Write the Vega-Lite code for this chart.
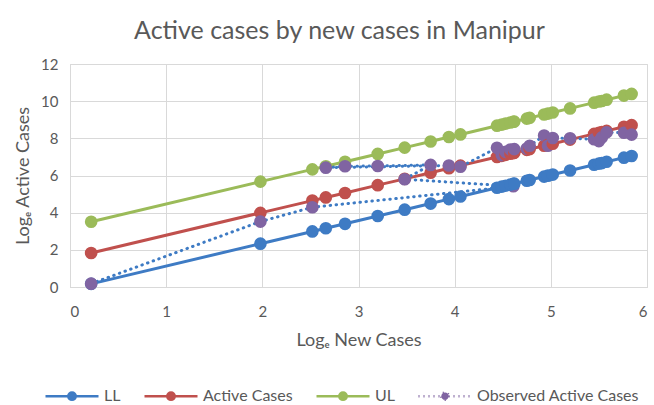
{
  "$schema": "https://vega.github.io/schema/vega-lite/v6.json",
  "width": 577,
  "height": 223,
  "autosize": "none",
  "padding": {"left": 70, "top": 64, "right": 7, "bottom": 118},
  "background": "white",
  "title": {"text": "Active cases by new cases in Manipur", "font": "Lato", "fontSize": 25, "fontWeight": "normal", "color": "#595959", "anchor": "middle", "dx": -19, "offset": 13},
  "data": {"values": [
    {"i": 1, "x": 0.22, "LL": 0.17, "Active Cases": 1.83, "UL": 3.51, "Observed Active Cases": 0.18},
    {"i": 2, "x": 1.98, "LL": 2.33, "Active Cases": 3.99, "UL": 5.67, "Observed Active Cases": 3.52},
    {"i": 3, "x": 2.52, "LL": 2.99, "Active Cases": 4.65, "UL": 6.33, "Observed Active Cases": 4.29},
    {"i": 4, "x": 4.61, "LL": 5.55, "Active Cases": 7.21, "UL": 8.89, "Observed Active Cases": 5.42},
    {"i": 5, "x": 3.48, "LL": 4.16, "Active Cases": 5.82, "UL": 7.50, "Observed Active Cases": 5.80},
    {"i": 6, "x": 3.75, "LL": 4.49, "Active Cases": 6.15, "UL": 7.83, "Observed Active Cases": 6.57},
    {"i": 7, "x": 3.20, "LL": 3.82, "Active Cases": 5.48, "UL": 7.16, "Observed Active Cases": 6.51},
    {"i": 8, "x": 2.86, "LL": 3.40, "Active Cases": 5.06, "UL": 6.74, "Observed Active Cases": 6.50},
    {"i": 9, "x": 2.66, "LL": 3.16, "Active Cases": 4.82, "UL": 6.50, "Observed Active Cases": 6.42},
    {"i": 10, "x": 3.94, "LL": 4.73, "Active Cases": 6.39, "UL": 8.07, "Observed Active Cases": 6.54},
    {"i": 11, "x": 4.06, "LL": 4.87, "Active Cases": 6.53, "UL": 8.21, "Observed Active Cases": 6.47},
    {"i": 12, "x": 4.44, "LL": 5.34, "Active Cases": 7.00, "UL": 8.68, "Observed Active Cases": 7.49},
    {"i": 13, "x": 4.49, "LL": 5.40, "Active Cases": 7.06, "UL": 8.74, "Observed Active Cases": 7.10},
    {"i": 14, "x": 4.53, "LL": 5.45, "Active Cases": 7.11, "UL": 8.79, "Observed Active Cases": 7.27},
    {"i": 15, "x": 4.58, "LL": 5.51, "Active Cases": 7.17, "UL": 8.85, "Observed Active Cases": 7.40},
    {"i": 16, "x": 4.62, "LL": 5.56, "Active Cases": 7.22, "UL": 8.90, "Observed Active Cases": 7.42},
    {"i": 17, "x": 4.75, "LL": 5.72, "Active Cases": 7.38, "UL": 9.06, "Observed Active Cases": 7.45},
    {"i": 18, "x": 4.78, "LL": 5.76, "Active Cases": 7.42, "UL": 9.10, "Observed Active Cases": 7.60},
    {"i": 19, "x": 4.93, "LL": 5.94, "Active Cases": 7.60, "UL": 9.28, "Observed Active Cases": 8.15},
    {"i": 20, "x": 4.97, "LL": 5.99, "Active Cases": 7.65, "UL": 9.33, "Observed Active Cases": 7.60},
    {"i": 21, "x": 5.02, "LL": 6.05, "Active Cases": 7.71, "UL": 9.39, "Observed Active Cases": 8.02},
    {"i": 22, "x": 5.20, "LL": 6.27, "Active Cases": 7.93, "UL": 9.61, "Observed Active Cases": 8.00},
    {"i": 23, "x": 5.45, "LL": 6.58, "Active Cases": 8.24, "UL": 9.92, "Observed Active Cases": 7.95},
    {"i": 24, "x": 5.50, "LL": 6.64, "Active Cases": 8.30, "UL": 9.98, "Observed Active Cases": 7.85},
    {"i": 25, "x": 5.53, "LL": 6.67, "Active Cases": 8.33, "UL": 10.01, "Observed Active Cases": 8.05},
    {"i": 26, "x": 5.58, "LL": 6.74, "Active Cases": 8.40, "UL": 10.08, "Observed Active Cases": 8.32},
    {"i": 27, "x": 5.76, "LL": 6.96, "Active Cases": 8.62, "UL": 10.30, "Observed Active Cases": 8.30},
    {"i": 28, "x": 5.84, "LL": 7.05, "Active Cases": 8.71, "UL": 10.39, "Observed Active Cases": 8.20}
  ]},
  "transform": [{"fold": ["LL", "Active Cases", "UL", "Observed Active Cases"], "as": ["series", "y"]}],
  "encoding": {
    "x": {"field": "x", "type": "quantitative", "scale": {"domain": [0, 6], "nice": false},
      "axis": {"title": "Logₑ New Cases", "values": [0, 1, 2, 3, 4, 5, 6], "grid": true, "gridColor": "#D9D9D9", "domainColor": "#D9D9D9", "ticks": false,
        "labelFont": "Lato", "labelFontSize": 15, "labelColor": "#595959", "labelPadding": 17,
        "titleFont": "Lato", "titleFontSize": 18, "titleFontWeight": "normal", "titleColor": "#595959", "titlePadding": 12}},
    "y": {"field": "y", "type": "quantitative", "scale": {"domain": [0, 12], "nice": false},
      "axis": {"title": "Logₑ Active Cases", "values": [0, 2, 4, 6, 8, 10, 12], "grid": true, "gridColor": "#D9D9D9", "domainColor": "#D9D9D9", "ticks": false,
        "labelFont": "Lato", "labelFontSize": 15, "labelColor": "#595959", "labelPadding": 12,
        "titleFont": "Lato", "titleFontSize": 18, "titleFontWeight": "normal", "titleColor": "#595959", "titlePadding": 8}},
    "color": {"field": "series", "type": "nominal",
      "scale": {"domain": ["LL", "Active Cases", "UL", "Observed Active Cases"], "range": ["#3E7BC4", "#C0504D", "#9BBB59", "#8064A2"]},
      "legend": {"orient": "none", "legendX": -26, "legendY": 304, "direction": "horizontal", "title": null,
        "symbolType": "M-1,0H1M0.14,0C0.14,0.077,0.077,0.14,0,0.14C-0.077,0.14,-0.14,0.077,-0.14,0C-0.14,-0.077,-0.077,-0.14,0,-0.14C0.077,-0.14,0.14,-0.077,0.14,0Z",
        "symbolSize": 2809, "symbolStrokeWidth": 2.5, "symbolOpacity": 1,
        "labelFont": "Lato", "labelFontSize": 16, "labelColor": "#595959", "labelLimit": 300, "columnPadding": 18, "labelOffset": 4,
        "encode": {"symbols": {"update": {
          "fill": {"scale": "color", "field": "value"},
          "stroke": {"signal": "datum.value === 'Observed Active Cases' ? '#3E7BC4' : scale('color', datum.value)"},
          "strokeDash": {"signal": "datum.value === 'Observed Active Cases' ? [1, 4] : []"},
          "strokeWidth": {"value": 2.5}
        }}}}
    }
  },
  "layer": [
    {
      "transform": [{"filter": "datum.series !== 'Observed Active Cases'"}],
      "mark": {"type": "line", "strokeWidth": 3}
    },
    {
      "transform": [{"filter": "datum.series === 'Observed Active Cases'"}],
      "mark": {"type": "line", "strokeWidth": 3, "strokeDash": [0.5, 5.5], "strokeCap": "round"},
      "encoding": {"color": {"value": "#3E7BC4"}, "order": {"field": "i", "type": "quantitative"}}
    },
    {
      "mark": {"type": "point", "filled": true, "opacity": 1, "size": 160}
    }
  ]
}
